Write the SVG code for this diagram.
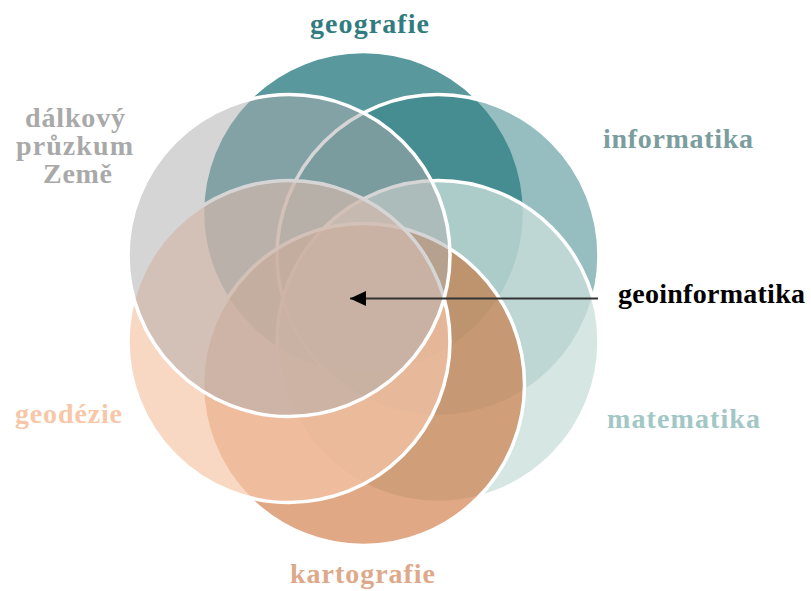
<svg xmlns="http://www.w3.org/2000/svg" width="811" height="591" viewBox="0 0 811 591">
  <style>
    .c { stroke: #ffffff; stroke-width: 3.5; }
    .t { font-family: "Liberation Serif", "Times New Roman", serif; font-weight: bold; font-size: 28px; }
  </style>
  <defs>
    <marker id="ah" viewBox="0 0 16 15" refX="16" refY="7.5" markerWidth="16" markerHeight="15" markerUnits="userSpaceOnUse" orient="auto">
      <path d="M0,0 L16,7.5 L0,15 Z" fill="#000"/>
    </marker>
  </defs>
  <rect width="811" height="591" fill="#ffffff"/>

  <g id="geografie">
    <circle class="c" cx="363.5" cy="212.5" r="161" fill="#2f8086" fill-opacity="0.8"/>
    <text class="t" x="369.5" y="33" text-anchor="middle" fill="#327c80" textLength="119">geografie</text>
  </g>
  <g id="informatika">
    <circle class="c" cx="438" cy="255.5" r="161" fill="#368387" fill-opacity="0.52"/>
    <text class="t" x="603" y="148" fill="#7b9d9e" textLength="150">informatika</text>
  </g>
  <g id="matematika">
    <circle class="c" cx="438" cy="341.5" r="161" fill="#cadeda" fill-opacity="0.77"/>
    <text class="t" x="607" y="428" fill="#a2c7c6" textLength="153">matematika</text>
  </g>
  <g id="kartografie">
    <circle class="c" cx="363.5" cy="384.5" r="161" fill="#cb6e32" fill-opacity="0.6"/>
    <text class="t" x="290" y="583" fill="#dea98a" textLength="145">kartografie</text>
  </g>
  <g id="geodezie">
    <circle class="c" cx="289" cy="341.5" r="161" fill="#f5c6a9" fill-opacity="0.7"/>
    <text class="t" x="15" y="423" fill="#f7c7a8" textLength="107">geodézie</text>
  </g>
  <g id="dalkovy-pruzkum-zeme">
    <circle class="c" cx="289" cy="255.5" r="161" fill="#aeabae" fill-opacity="0.5"/>
    <text class="t" fill="#a9a9a9">
      <tspan x="25" y="127" textLength="100">dálkový</tspan>
      <tspan x="16" y="155" textLength="117">průzkum</tspan>
      <tspan x="43" y="183" textLength="69">Země</tspan>
    </text>
  </g>

  <g id="connectors">
    <line x1="598" y1="298.5" x2="350" y2="298.5" stroke="#333333" stroke-width="2" marker-end="url(#ah)"/>
  </g>
  <g id="geoinformatika">
    <text class="t" x="618" y="303" fill="#000000" textLength="187">geoinformatika</text>
  </g>
</svg>
